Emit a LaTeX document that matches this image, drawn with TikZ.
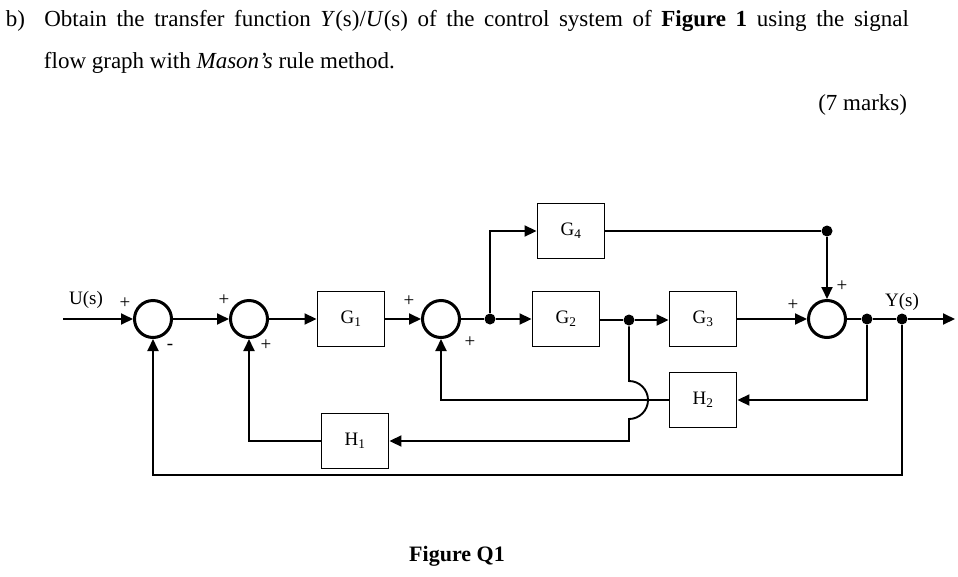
\documentclass[tikz,border=0pt]{standalone}
\usepackage{fontspec}
\setmainfont{Liberation Serif}
\usetikzlibrary{arrows.meta}
\begin{document}
\begin{tikzpicture}[x=1pt,y=-1pt,
  line width=1.9pt,
  blk/.style={draw,minimum width=67pt,minimum height=55pt,inner sep=0pt,font=\fontsize{19}{19}\selectfont},
  sum/.style={draw,circle,line width=3pt,minimum size=37pt,inner sep=0pt},
  dot/.style={circle,fill,inner sep=0pt,minimum size=11pt},
  arr/.style={-{Triangle[length=12pt,width=11pt]}},
  lbl/.style={font=\fontsize{19}{19}\selectfont,inner sep=0pt},
  txt/.style={font=\fontsize{23}{23}\selectfont,inner sep=0pt,anchor=base west}]
\useasboundingbox (0,0) rectangle (958,576);
% header
\node[txt] (l1) at (5,26) {\makebox[903pt][s]{b)\ \ Obtain the transfer function \textit{Y}(s)/\textit{U}(s) of the control system of \textbf{Figure 1} using the signal}};
\node[txt] (l2) at (43,68) {flow graph with \textit{Mason's} rule method.};
\node[txt,anchor=base east] (l3) at (908,110) {(7 marks)};
\node[txt,anchor=base,font=\fontsize{22}{22}\selectfont\bfseries] (fig) at (457,561) {Figure Q1};
% blocks
\node[sum] (s1) at (153,319) {};
\node[sum] (s2) at (249,319) {};
\node[blk] (g1) at (351,319) {G\textsubscript{1}};
\node[sum] (s3) at (441,319) {};
\node[dot] (d1) at (490,319) {};
\node[blk] (g4) at (571,231) {G\textsubscript{4}};
\node[blk] (g2) at (566,319) {G\textsubscript{2}};
\node[dot] (d2) at (629,320) {};
\node[blk] (g3) at (703,319) {G\textsubscript{3}};
\node[sum] (s4) at (827,319) {};
\node[dot] (d3) at (827,231) {};
\node[dot] (d4) at (867,319) {};
\node[dot] (d5) at (902,319) {};
\node[blk] (h2) at (703,400) {H\textsubscript{2}};
\node[blk] (h1) at (355,441) {H\textsubscript{1}};
\coordinate (u) at (63,319);
\coordinate (y) at (955,319);
% forward path
\draw[arr] (u) -- (s1);
\draw[arr] (s1) -- (s2);
\draw[arr] (s2) -- (g1);
\draw[arr] (g1) -- (s3);
\draw (s3) -- (d1);
\draw[arr] (d1) -- (g2);
\draw[arr] (d1) |- (g4);
\draw (g4) -- (d3);
\draw[arr] (d3) -- (s4);
\draw (g2.east |- d2) -- (d2);
\draw[arr] (d2) -- (g3.west |- d2);
\draw[arr] (g3) -- (s4);
\draw (s4) -- (d4) -- (d5);
\draw[arr] (d5) -- (y);
% feedback
\draw[arr] (d4) |- (h2);
\draw[arr] (h2) -| (s3);
\draw[arr] (d2) -- (629,381) arc[start angle=90,end angle=-90,radius=19pt] -- (629,441) -- (h1);
\draw[arr] (h1) -| (s2);
\draw[arr] (d5) -- (902,475) -| (s1);
% labels
\node[lbl] (lu) at (86,300) {U(s)};
\node[lbl] (p1) at (125,303) {+};
\node[lbl] (m1) at (170,347) {-};
\node[lbl] (p2) at (224,300) {+};
\node[lbl] (p3) at (266,345) {+};
\node[lbl] (p4) at (409,301) {+};
\node[lbl] (p5) at (470,342) {+};
\node[lbl] (p6) at (793,305) {+};
\node[lbl] (p7) at (842,286) {+};
\node[lbl] (ly) at (902,302) {Y(s)};
\end{tikzpicture}
\end{document}
